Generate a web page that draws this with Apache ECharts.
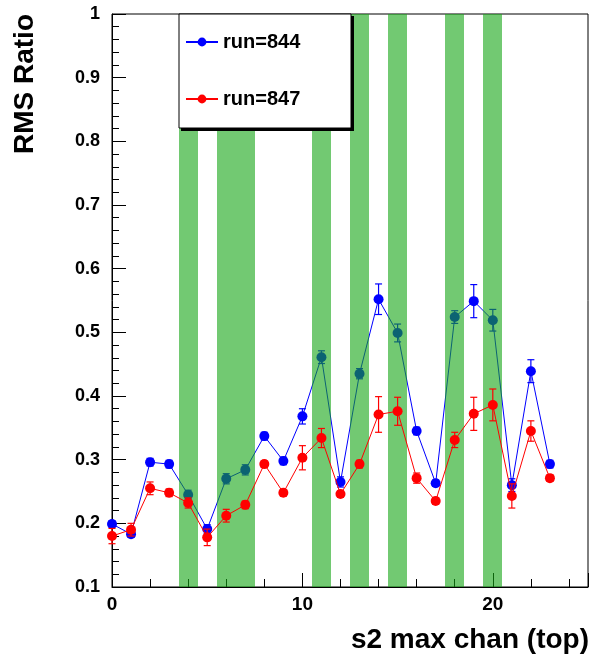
<!DOCTYPE html>
<html>
<head>
<meta charset="utf-8">
<script src="https://cdn.jsdelivr.net/npm/echarts@6/dist/echarts.min.js"></script>
<style>
html,body{margin:0;padding:0;background:#fff;}
#chart{width:594px;height:659px;}
</style>
</head>
<body>
<div id="chart"></div>
<script>
// ---- data ----
const channels = [0,1,2,3,4,5,6,7,8,9,10,11,12,13,14,15,16,17,18,19,20,21,22,23];
const run844 = [0.199,0.183,0.296,0.293,0.245,0.191,0.270,0.284,0.337,0.298,0.368,0.461,0.265,0.435,0.552,0.499,0.345,0.263,0.524,0.549,0.519,0.260,0.439,0.293];
const run844Err = [0.005,0.005,0.006,0.006,0.007,0.007,0.008,0.008,0.006,0.006,0.012,0.010,0.008,0.008,0.024,0.014,0.006,0.005,0.010,0.026,0.017,0.010,0.018,0.006];
const run847 = [0.180,0.190,0.255,0.248,0.232,0.178,0.212,0.229,0.293,0.248,0.303,0.334,0.246,0.293,0.371,0.376,0.271,0.235,0.331,0.372,0.386,0.243,0.345,0.271];
const run847Err = [0.012,0.010,0.010,0.006,0.008,0.013,0.010,0.006,0.005,0.005,0.019,0.015,0.005,0.006,0.028,0.022,0.008,0.005,0.012,0.026,0.025,0.019,0.016,0.005];
const bandStart = [3.5,5.5,10.5,12.5,14.5,17.5,19.5];
const bandEnd   = [4.5,7.5,11.5,13.5,15.5,18.5,20.5];
const seriesNames = ['run=844','run=847'];
const xTitle = 's2 max chan (top)';
const yTitle = 'RMS Ratio';

const FONT = '"Liberation Sans", Arial, Helvetica, sans-serif';

function errRender(color) {
  return function (params, api) {
    const x = api.value(0), v = api.value(1), e = api.value(2);
    const top = api.coord([x, v + e]);
    const bot = api.coord([x, v - e]);
    const w = 3.5;
    const st = {stroke: color, lineWidth: 1.2};
    return {
      type: 'group',
      children: [
        {type: 'line', shape: {x1: top[0], y1: top[1], x2: bot[0], y2: bot[1]}, style: st},
        {type: 'line', shape: {x1: top[0]-w, y1: top[1], x2: top[0]+w, y2: top[1]}, style: st},
        {type: 'line', shape: {x1: bot[0]-w, y1: bot[1], x2: bot[0]+w, y2: bot[1]}, style: st}
      ]
    };
  };
}

const chart = echarts.init(document.getElementById('chart'), null, {renderer: 'canvas'});
const option = {
  animation: false,
  backgroundColor: '#fff',
  grid: {left: 112, right: 6, top: 14, bottom: 72, show: true, borderColor: '#000', borderWidth: 1, backgroundColor: 'transparent'},
  legend: {
    data: seriesNames,
    orient: 'vertical',
    left: 185, top: 32,
    itemGap: 37,
    itemWidth: 32, itemHeight: 11,
    padding: 0,
    z: 20,
    textStyle: {fontSize: 20, fontWeight: 'bold', fontFamily: FONT, color: '#000'}
  },
  xAxis: [
    {
      type: 'value', min: 0, max: 25, interval: 10, position: 'bottom',
      axisLine: {onZero: false, lineStyle: {color: '#000', width: 1}},
      axisTick: {inside: true, length: 14, lineStyle: {color: '#000'}},
      axisLabel: {margin: 8, fontSize: 19, fontWeight: 'bold', fontFamily: FONT, color: '#000',
        formatter: v => (v % 10 === 0 ? String(v) : '')},
      splitLine: {show: false}
    },
    {
      type: 'value', min: 0, max: 25, interval: 2, position: 'bottom',
      axisLine: {show: false, onZero: false},
      axisTick: {inside: true, length: 8, lineStyle: {color: '#000'}},
      axisLabel: {show: false},
      splitLine: {show: false}
    }
  ],
  yAxis: {
    type: 'value', min: 0.1, max: 1, interval: 0.1,
    axisLine: {show: true, onZero: false, lineStyle: {color: '#000', width: 1}},
    axisTick: {show: true, inside: true, length: 14, lineStyle: {color: '#000'}},
    minorTick: {show: true, splitNumber: 5, length: 7, lineStyle: {color: '#000'}},
    axisLabel: {margin: 12, fontSize: 18, fontWeight: 'bold', fontFamily: FONT, color: '#000',
      formatter: v => String(Math.round(v * 10) / 10)},
    splitLine: {show: false}
  },
  graphic: [
    {type: 'rect', z: 10, shape: {x: 181, y: 16, width: 173, height: 115}, style: {fill: '#000'}},
    {type: 'rect', z: 11, shape: {x: 179, y: 14, width: 172, height: 114}, style: {fill: '#fff', stroke: '#000', lineWidth: 1}},
    {type: 'text', z: 12, x: 25, y: 14, rotation: Math.PI / 2,
      style: {text: yTitle, fontSize: 28, fontWeight: 'bold', fontFamily: FONT, fill: '#000', align: 'right', verticalAlign: 'middle'}},
    {type: 'text', z: 12, x: 589, y: 640,
      style: {text: xTitle, fontSize: 28, fontWeight: 'bold', fontFamily: FONT, fill: '#000', align: 'right', verticalAlign: 'middle'}}
  ],
  series: [
    {
      name: seriesNames[0], type: 'line', z: 2,
      data: channels.map((x, i) => [x, run844[i]]),
      symbol: 'circle', symbolSize: 10,
      itemStyle: {color: '#0000ff'},
      lineStyle: {color: '#0000ff', width: 1}
    },
    {
      type: 'custom', z: 2,
      renderItem: errRender('#0000ff'),
      data: channels.map((x, i) => [x, run844[i], run844Err[i]])
    },
    {
      type: 'custom', z: 3,
      renderItem: function (params, api) {
        const a = api.coord([api.value(0), 1]);
        const b = api.coord([api.value(1), 0.1]);
        const x0 = Math.round(a[0]), y0 = Math.round(a[1]);
        return {type: 'rect', shape: {x: x0, y: y0, width: Math.round(b[0]) - x0, height: Math.round(b[1]) - y0},
          style: {fill: 'rgba(20,165,20,0.6)'}};
      },
      data: bandStart.map((s, i) => [s, bandEnd[i]])
    },
    {
      name: seriesNames[1], type: 'line', z: 4,
      data: channels.map((x, i) => [x, run847[i]]),
      symbol: 'circle', symbolSize: 10,
      itemStyle: {color: '#ff0000'},
      lineStyle: {color: '#ff0000', width: 1}
    },
    {
      type: 'custom', z: 4,
      renderItem: errRender('#ff0000'),
      data: channels.map((x, i) => [x, run847[i], run847Err[i]])
    }
  ]
};
chart.setOption(option);
</script>
</body>
</html>
